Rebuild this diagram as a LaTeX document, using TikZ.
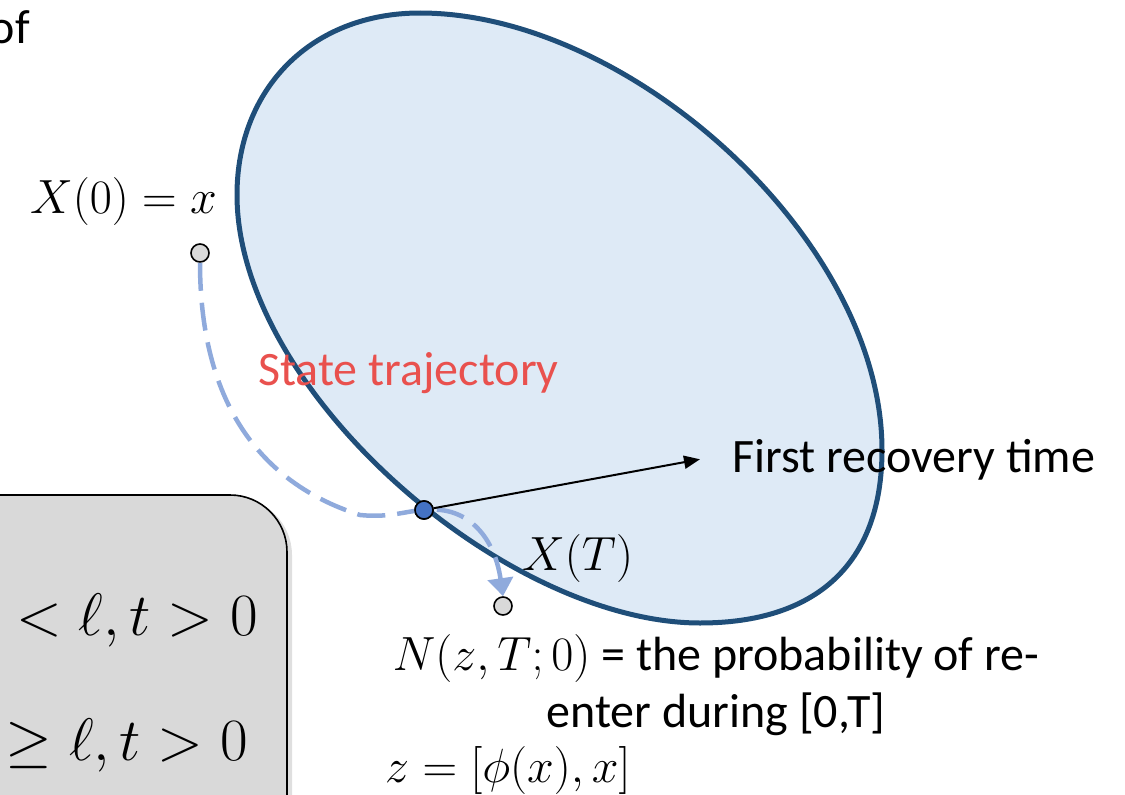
\RequirePackage{fix-cm}
\documentclass[tikz,border=0pt]{standalone}
\usepackage{fontspec}
\setmainfont{Carlito}
\usetikzlibrary{arrows.meta,shadows}
\definecolor{RegionFill}{HTML}{DEEAF6}
\definecolor{RegionLine}{HTML}{1F4E79}
\definecolor{PathBlue}{HTML}{8FAADC}
\definecolor{DotBlue}{HTML}{4472C4}
\definecolor{StateRed}{HTML}{E9514E}
\definecolor{BoxGray}{HTML}{D9D9D9}

\begin{document}
\begin{tikzpicture}[x=1pt,y=-1pt,
  lbl/.style={font=\fontsize{48}{57}\selectfont,inner sep=0pt},
  boxlbl/.style={font=\fontsize{60}{72}\selectfont,inner sep=0pt},
  statept/.style={circle,draw=black,line width=1.6pt,minimum size=18pt,inner sep=0pt,fill=BoxGray}]
  \useasboundingbox (0,0) rectangle (1125,795);
  \clip (0,0) rectangle (1125,795);
  % recovery region
  \draw[RegionLine,line width=5pt,fill=RegionFill] (420,13)
    .. controls (630,13) and (882,240) .. (882,450)
    .. controls (882,565) and (815,623) .. (700,623)
    .. controls (505,623) and (237,390) .. (237,195)
    .. controls (237,88) and (312,13) .. cycle;
  % condition box
  \draw[fill=BoxGray,line width=1.6pt,rounded corners=57pt,
    drop shadow={shadow xshift=5pt,shadow yshift=-3pt,opacity=0.25}] (-80,495) rectangle (287,900);
  \node[boxlbl,anchor=base east] (c1) at (258,635) {$<\ell,t>0$};
  \node[boxlbl,anchor=base east] (c2) at (248,760) {$\geq\ell,t>0$};
  % states
  \node[statept] (x0) at (200,253) {};
  \node[statept,fill=DotBlue] (hit) at (424,510) {};
  \node[statept] (xT) at (503,606) {};
  \draw[PathBlue,line width=4.5pt,dash pattern=on 28pt off 12pt,-{Triangle[length=18pt,width=25pt]}]
    (x0.south) .. controls (200,390) and (250,480) .. (360,515)
    .. controls (390,518) and (405,511) .. (hit.center)
    .. controls (470,505) and (495,540) .. (xT.north);
  \node[statept,fill=DotBlue] at (hit) {};
  % labels
  \node[lbl,anchor=base east] (of) at (30,43) {of};
  \node[lbl,anchor=base west] (lx0) at (30,213) {$X(0)=x$};
  \node[lbl,anchor=base west,text=StateRed] (traj) at (258,385) {State trajectory};
  \node[lbl,anchor=base west] (frt) at (732,472) {First recovery time};
  \draw[line width=2pt,-{Triangle[length=16pt,width=13pt]}] (hit) -- ([xshift=-32pt]frt.west);
  \node[lbl,anchor=base west] (lxT) at (522,570) {$X(T)$};
  \node[lbl,anchor=base,align=center] (prob) at (716,727) {$N(z,T;0)$ = the probability of re-\\enter during [0,T]};
  \node[lbl,anchor=base west] (zdef) at (385,782) {$z=[\phi(x),x]$};
\end{tikzpicture}
\end{document}
